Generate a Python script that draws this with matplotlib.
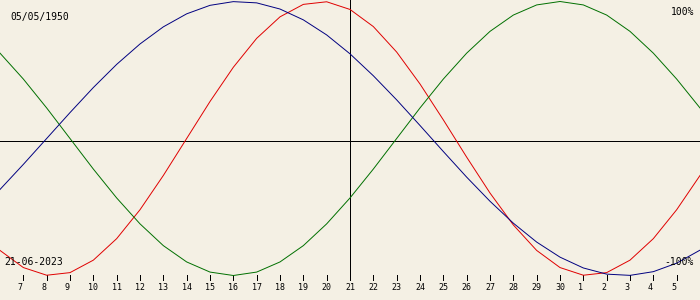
import matplotlib
matplotlib.use("Agg")
import matplotlib.pyplot as plt
import matplotlib.transforms as mtransforms

# Days counted from 0 June 2023 (6 = 6 June, 31 = 1 July, 36 = 6 July)
day_index = list(range(6, 37))
physical = [-0.817, -0.942, -0.998, -0.979, -0.888, -0.731, -0.520, -0.270, 0.000, 0.270,
            0.520, 0.731, 0.888, 0.979, 0.998, 0.942, 0.817, 0.631, 0.398, 0.136,
            -0.136, -0.398, -0.631, -0.817, -0.942, -0.998, -0.979, -0.888, -0.731, -0.520,
            -0.270]
emotional = [0.623, 0.434, 0.223, 0.000, -0.223, -0.434, -0.623, -0.782, -0.901, -0.975,
             -1.000, -0.975, -0.901, -0.782, -0.623, -0.434, -0.223, 0.000, 0.223, 0.434,
             0.623, 0.782, 0.901, 0.975, 1.000, 0.975, 0.901, 0.782, 0.623, 0.434,
             0.223]
intellectual = [-0.372, -0.189, 0.000, 0.189, 0.372, 0.541, 0.690, 0.815, 0.910, 0.972,
                0.999, 0.990, 0.945, 0.866, 0.756, 0.618, 0.458, 0.282, 0.095, -0.095,
                -0.282, -0.458, -0.618, -0.756, -0.866, -0.945, -0.990, -0.999, -0.972, -0.910,
                -0.815]
tick_days = list(range(7, 36))
tick_labels = [str(d) for d in range(7, 31)] + [str(d) for d in range(1, 6)]
current_day = 21
birth_label = "05/05/1950"
date_label = "21-06-2023"
top_label = "100%"
bottom_label = "-100%"

BG = "#f4f0e4"
W, H = 700, 300
fig = plt.figure(figsize=(W / 100, H / 100), dpi=100, facecolor=BG)
ax = fig.add_axes([0, 0, 1, 1], facecolor=BG)
ax.set_axis_off()

# y scale: +1 at row 1.5, -1 at row 275.5 -> 137 px per unit
scale = 137.0
ymax = 1 + 1.5 / scale
ymin = ymax - H / scale
ax.set_xlim(6, 36)
ax.set_ylim(ymin, ymax)

px = lambda dx, dy: mtransforms.ScaledTranslation(dx / 100, dy / 100, fig.dpi_scale_trans)

LW = 0.5
CLW = 0.7
# reference lines
ax.plot([0, 1], [0, 0], color="black", lw=LW, antialiased=False,
        transform=ax.get_yaxis_transform() + px(0, -2), zorder=1)
ax.axvline(current_day, ymin=1 - 280 / H, ymax=1, color="black", lw=LW,
           antialiased=False, zorder=1)

ax.plot(day_index, physical, color="#e00000", lw=CLW, zorder=3)
ax.plot(day_index, emotional, color="#007000", lw=CLW, zorder=3)
ax.plot(day_index, intellectual, color="#000080", lw=CLW, zorder=3)

# ticks along bottom
trans = mtransforms.blended_transform_factory(ax.transData, ax.transAxes)
ax.vlines(tick_days, 1 - 280 / H, 1 - 275 / H, color="black", lw=LW,
          antialiased=False, transform=trans, zorder=2)
for d, lab in zip(tick_days, tick_labels):
    off = -3 if len(lab) == 1 else 0
    ax.text(d, 1 - 288 / H, lab, transform=trans + px(off, 0), ha="center", va="center",
            fontsize=6, family="DejaVu Sans Mono", color="black")

fs = 7
ax.text(10 / W, 1 - 17 / H, birth_label, transform=ax.transAxes, ha="left", va="center",
        fontsize=fs, family="DejaVu Sans Mono", color="black")
ax.text(4 / W, 1 - 262 / H, date_label, transform=ax.transAxes, ha="left", va="center",
        fontsize=fs, family="DejaVu Sans Mono", color="black", zorder=5)
ax.text(694 / W, 1 - 12 / H, top_label, transform=ax.transAxes, ha="right", va="center",
        fontsize=fs, family="DejaVu Sans Mono", color="black")
ax.text(694 / W, 1 - 262 / H, bottom_label, transform=ax.transAxes, ha="right", va="center",
        fontsize=fs, family="DejaVu Sans Mono", color="black", zorder=5)

fig.savefig("out.png", dpi=100, facecolor=BG)
